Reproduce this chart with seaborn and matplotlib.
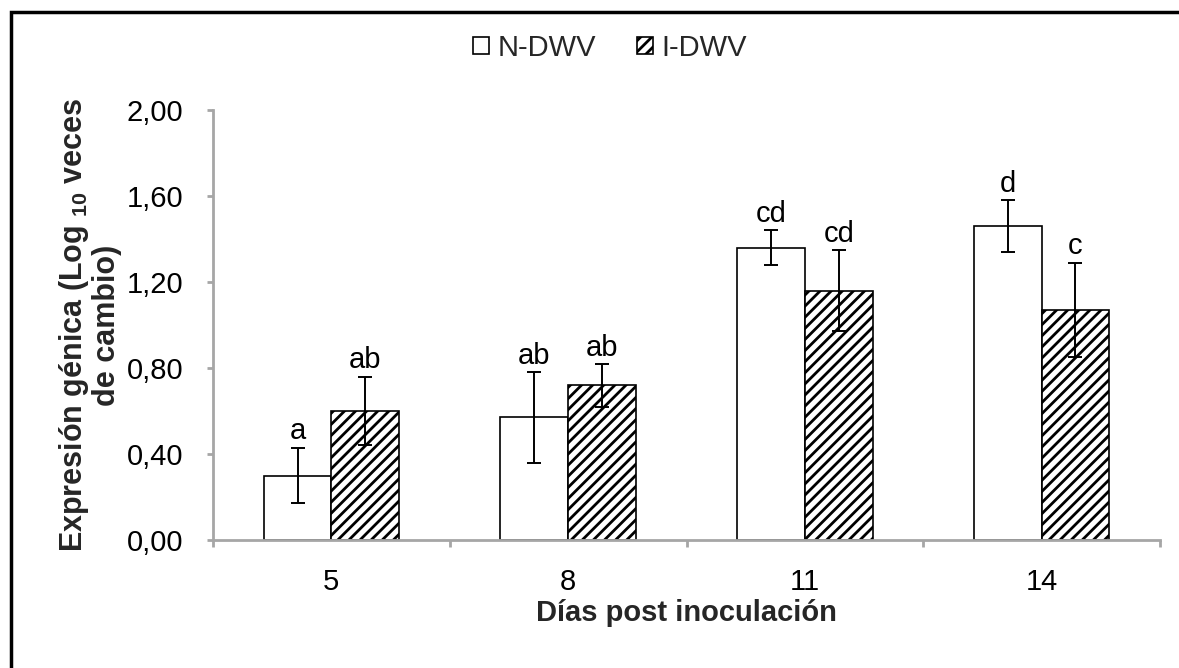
import matplotlib
matplotlib.use("Agg")
import matplotlib.pyplot as plt
import seaborn as sns
import pandas as pd
import numpy as np
from matplotlib.patches import Rectangle, Patch

# ---- data ----
days = ["5", "8", "11", "14"]
groups = ["N-DWV", "I-DWV"]
n_dwv = [0.30, 0.57, 1.36, 1.46]
i_dwv = [0.60, 0.72, 1.16, 1.07]
n_err = [0.13, 0.21, 0.08, 0.12]
i_err = [0.16, 0.10, 0.19, 0.22]
n_letters = ["a", "ab", "cd", "d"]
i_letters = ["ab", "ab", "cd", "c"]
yticks = [0.0, 0.4, 0.8, 1.2, 1.6, 2.0]

sns.set_theme(style="white")
plt.rcParams['font.family'] = ['Liberation Sans', 'DejaVu Sans']
plt.rcParams['mathtext.fontset'] = 'custom'
plt.rcParams['mathtext.rm'] = 'Liberation Sans'
plt.rcParams['mathtext.bf'] = 'Liberation Sans:bold'
plt.rcParams['hatch.linewidth'] = 2.0
plt.rcParams['hatch.color'] = 'black'

FS = 21

df = pd.DataFrame({
    "Dia": days * 2,
    "Grupo": [groups[0]] * 4 + [groups[1]] * 4,
    "Valor": n_dwv + i_dwv,
})

fig = plt.figure(figsize=(11.79, 6.68), dpi=100)
ax = fig.add_axes([213/1179, 1-540/668, (1160-213)/1179, (540-110)/668])

sns.barplot(data=df, x="Dia", y="Valor", hue="Grupo", order=days,
            hue_order=groups, palette=["white", "white"], width=0.572,
            edgecolor="black", linewidth=1.2, errorbar=None, legend=False, ax=ax)

grey = "#a6a6a6"
bars = ax.patches[:8]
errs = n_err + i_err
vals = n_dwv + i_dwv
lets = n_letters + i_letters
for k, p in enumerate(bars):
    cx = p.get_x() + p.get_width() / 2
    if k >= 4:
        p.set_hatch("///")
    ax.errorbar(cx, vals[k], yerr=errs[k], fmt="none", ecolor="black",
                elinewidth=1.4, capsize=5, capthick=1.4, zorder=5)
    ax.text(cx, vals[k] + errs[k] + 0.01, lets[k], ha="center", va="bottom",
            fontsize=FS, color="black")

ax.set_ylim(0, 2.0)
ax.set_xlim(-0.5, 3.5)
ax.set_yticks(yticks)
ax.set_yticklabels([f"{v:.2f}".replace(".", ",") for v in yticks])
ax.set_xticks(range(len(days)))
ax.set_xticklabels(days)
ax.set_xticks([-0.5, 0.5, 1.5, 2.5, 3.5], minor=True)
ax.tick_params(axis="x", which="major", length=0, pad=20, labelsize=FS, colors="black")
ax.tick_params(axis="x", which="minor", length=5, width=2, color=grey, direction="out", bottom=True)
ax.tick_params(axis="y", which="major", length=4.5, width=2, color=grey, direction="out",
               left=True, pad=17, labelsize=FS, labelcolor="black")
for s in ["top", "right"]:
    ax.spines[s].set_visible(False)
for s in ["left", "bottom"]:
    ax.spines[s].set_color(grey)
    ax.spines[s].set_linewidth(2)

ax.set_xlabel("Días post inoculación", fontsize=FS, fontweight="bold", labelpad=2)
ax.set_ylabel("Expresión génica (Log $_{\\mathbf{10}}$ veces\nde cambio)", fontsize=22,
              fontweight="bold", labelpad=3, linespacing=1.05)

handles = [Patch(facecolor="white", edgecolor="black", linewidth=1.2),
           Patch(facecolor="white", edgecolor="black", linewidth=1.2, hatch="///")]
fig.legend(handles, groups, loc="center", bbox_to_anchor=(610/1179, 1-48/668), ncol=2,
           frameon=False, fontsize=FS, handlelength=0.55, handleheight=0.55,
           handletextpad=0.28, columnspacing=1.4, borderpad=0)

fig.patches.append(Rectangle((10.5/1179, -0.1), 1.2, 1 - 12/668 + 0.1,
                             transform=fig.transFigure, fill=False,
                             edgecolor="black", linewidth=2.5, zorder=10))

fig.savefig("out.png", dpi=100, facecolor="white")
